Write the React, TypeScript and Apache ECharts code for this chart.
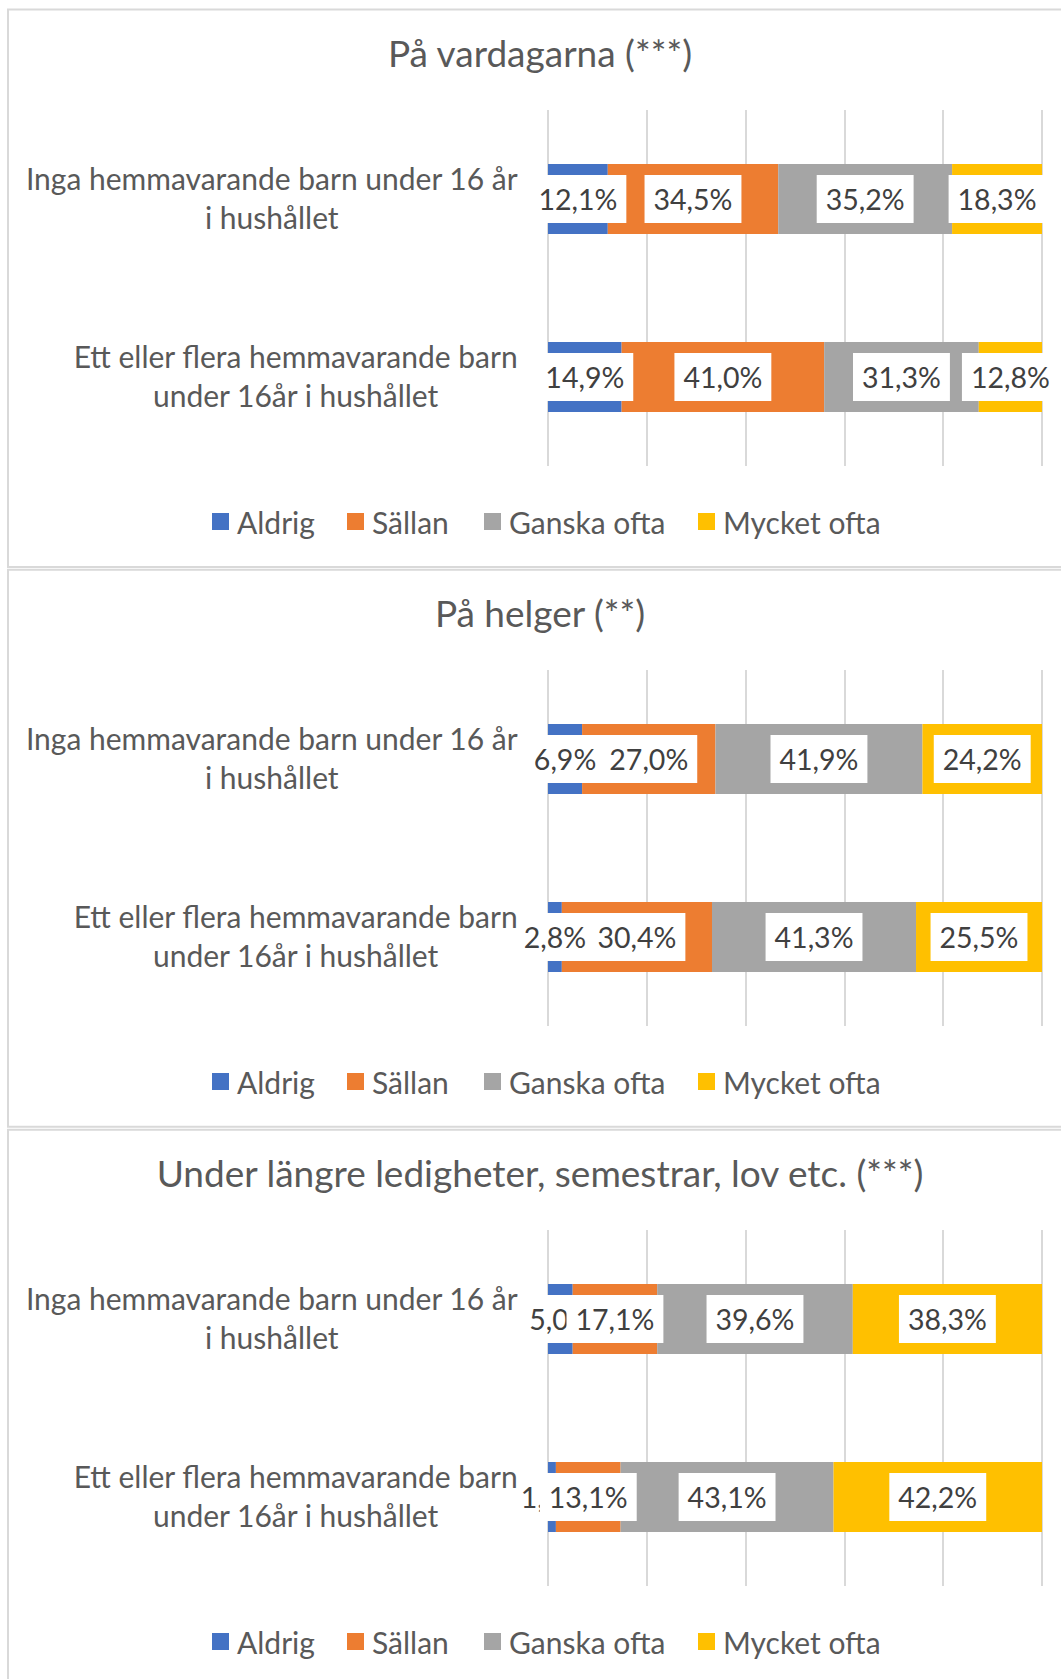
import React, { useEffect, useRef } from "react";
import * as echarts from "echarts";

const categories = [
  "Inga hemmavarande barn under 16 år\ni hushållet",
  "Ett eller flera hemmavarande barn\nunder 16år i hushållet",
];
const seriesNames = ["Aldrig", "Sällan", "Ganska ofta", "Mycket ofta"];
const seriesColors = ["#4472C4", "#ED7D31", "#A5A5A5", "#FFC000"];
const panelTitles = [
  "På vardagarna (***)",
  "På helger (**)",
  "Under längre ledigheter, semestrar, lov etc. (***)",
];

// Panel 1: weekdays
const weekdayAldrig = [12.1, 14.9];
const weekdaySallan = [34.5, 41.0];
const weekdayGanska = [35.2, 31.3];
const weekdayMycket = [18.3, 12.8];
// Panel 2: weekends
const weekendAldrig = [6.9, 2.8];
const weekendSallan = [27.0, 30.4];
const weekendGanska = [41.9, 41.3];
const weekendMycket = [24.2, 25.5];
// Panel 3: longer holidays
const holidayAldrig = [5.0, 1.6];
const holidaySallan = [17.1, 13.1];
const holidayGanska = [39.6, 43.1];
const holidayMycket = [38.3, 42.2];

const axisTicks = [0, 20, 40, 60, 80, 100];

const panelData = [
  [weekdayAldrig, weekdaySallan, weekdayGanska, weekdayMycket],
  [weekendAldrig, weekendSallan, weekendGanska, weekendMycket],
  [holidayAldrig, holidaySallan, holidayGanska, holidayMycket],
];

const FONT = "Lato";
const PANEL_H = 560;
const legendX = [212, 347, 484, 698];

const fmt = (v: number) => v.toFixed(1).replace(".", ",") + "%";

function buildOption() {
  const grids: any[] = [];
  const xAxes: any[] = [];
  const yAxes: any[] = [];
  const series: any[] = [];
  const titles: any[] = [];
  const legends: any[] = [];
  const graphics: any[] = [];

  const panelRects = [
    { y: 9.5, h: 557.5 },
    { y: 569.7, h: 557 },
    { y: 1129.7, h: 600 },
  ];
  panelRects.forEach((r) =>
    graphics.push({
      type: "rect",
      silent: true,
      shape: { x: 8, y: r.y, width: 1080, height: r.h },
      style: { fill: "#fff", stroke: "#d9d9d9", lineWidth: 2 },
      z: -10,
    })
  );

  panelData.forEach((rows, p) => {
    const off = p * PANEL_H;
    titles.push({
      text: panelTitles[p],
      left: 540,
      top: 52.5 + off,
      textAlign: "center",
      textVerticalAlign: "middle",
      padding: 0,
      textStyle: {
        fontFamily: FONT,
        fontSize: 37,
        fontWeight: "normal",
        color: "#595959",
      },
    });
    grids.push({ left: 548, top: 110 + off, width: 494, height: 356 });
    xAxes.push({
      type: "value",
      gridIndex: p,
      min: axisTicks[0],
      max: axisTicks[axisTicks.length - 1],
      interval: axisTicks[1] - axisTicks[0],
      axisLabel: { show: false },
      axisLine: { show: false },
      axisTick: { show: false },
      splitLine: { show: true, lineStyle: { color: "#d9d9d9", width: 2 } },
    });
    yAxes.push({
      type: "category",
      gridIndex: p,
      data: categories,
      inverse: true,
      z: 10,
      axisLine: { show: false },
      axisTick: { show: false },
      axisLabel: {
        interval: 0,
        margin: 30,
        align: "right",
        fontFamily: FONT,
        fontSize: 30,
        color: "#595959",
        lineHeight: 38.5,
        padding: [0, 0, 3, 0],
        formatter: (v: string) =>
          v
            .split("\n")
            .map((l) => `{c|${l}}`)
            .join("\n"),
        rich: {
          c: {
            align: "center",
            fontFamily: FONT,
            fontSize: 30,
            color: "#595959",
            lineHeight: 38.5,
          },
        },
      },
    });
    rows.forEach((vals, s) =>
      series.push({
        type: "bar",
        name: seriesNames[s],
        xAxisIndex: p,
        yAxisIndex: p,
        stack: "panel" + p,
        barWidth: 70,
        data: vals,
        itemStyle: { color: seriesColors[s] },
        label: {
          show: true,
          position: "inside",
          formatter: (pr: any) => fmt(pr.value),
          backgroundColor: "#ffffff",
          padding: [7, 9],
          color: "#404040",
          fontFamily: FONT,
          fontSize: 28.5,
          lineHeight: 34,
        },
      })
    );
    seriesNames.forEach((n, s) =>
      legends.push({
        data: [n],
        left: legendX[s],
        top: 506.5 + off,
        padding: 0,
        itemWidth: 17,
        itemHeight: 17,
        icon: "rect",
        selectedMode: false,
        textStyle: {
          fontFamily: FONT,
          fontSize: 30,
          color: "#595959",
          lineHeight: 30,
          padding: [0, 0, 0, 3],
        },
      })
    );
  });

  return {
    animation: false,
    backgroundColor: "#ffffff",
    title: titles,
    grid: grids,
    xAxis: xAxes,
    yAxis: yAxes,
    legend: legends,
    series,
    graphic: graphics,
  };
}

export default function App() {
  const ref = useRef<HTMLDivElement>(null);
  useEffect(() => {
    if (!ref.current) return;
    const chart = echarts.init(ref.current, undefined, { renderer: "svg" });
    chart.setOption(buildOption() as any);
    return () => chart.dispose();
  }, []);
  return (
    <div
      ref={ref}
      style={{
        position: "fixed",
        left: 0,
        top: 0,
        width: 1061,
        height: 1679,
        background: "#fff",
      }}
    />
  );
}
